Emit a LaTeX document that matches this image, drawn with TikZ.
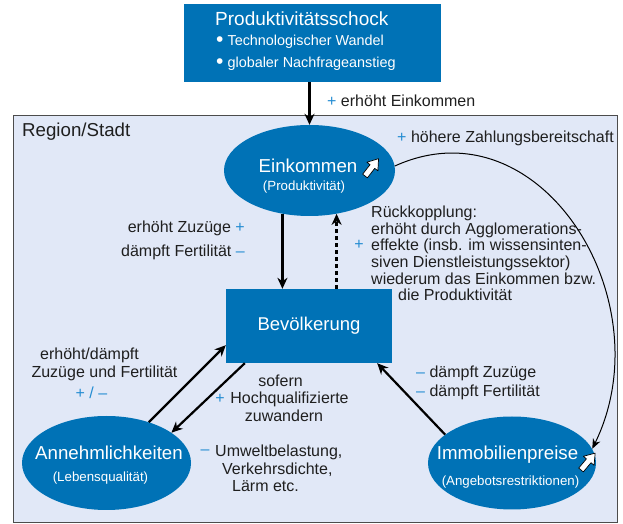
\documentclass[tikz,border=0pt]{standalone}
\usepackage{fontspec}
\setmainfont{Liberation Sans}
\usetikzlibrary{positioning, arrows.meta, shapes.geometric, calc}

\definecolor{boxblue}{RGB}{0,114,182}
\definecolor{regionbg}{RGB}{225,232,247}
\definecolor{signblue}{RGB}{35,140,210}

\newcommand{\fsz}[1]{\fontsize{#1}{#1}\selectfont}
\newcommand{\sgn}[1]{\textcolor{signblue}{#1}}
\newcommand{\bigbullet}{{\fsz{21}\raisebox{-1pt}{•}}\hspace{4pt}}

\begin{document}
\begin{tikzpicture}[x=1pt, y=1pt,
  arr/.style={-{Stealth[length=11pt,width=10pt,inset=3.5pt]}, line width=2.2pt},
  blob/.style={ellipse, fill=boxblue, inner sep=0pt},
  txt/.style={font=\fsz{16}, inner sep=0pt, text=black!88},
  wtxt/.style={font=\fsz{18.7}, inner sep=0pt, text=white},
  stxt/.style={font=\fsz{13.3}, inner sep=0pt, text=white},
  upicon/.pic={\draw[fill=white, line width=0.7pt, line join=round] (0,-3) -- (12,-3) -- (12,-7) -- (22,0) -- (12,7) -- (12,3) -- (0,3) -- cycle;}]
\useasboundingbox (0,0) rectangle (623,524);

% Region
\draw[fill=regionbg, draw=black!70, line width=1pt] (13,1) rectangle (617,408);
\node[txt, anchor=west, font=\fsz{18.7}] (region) at (22,392) {Region/Stadt};

% Shock
\node[fill=boxblue, minimum width=257pt, minimum height=78pt, inner sep=0pt] (shock) at (312.5,481) {};
\node[wtxt, font=\fsz{19}, anchor=west] (shocktitle) at (215,505) {Produktivitätsschock};
\node[wtxt, font=\fsz{14.4}, anchor=west] (shockA) at (216,482) {\bigbullet Technologischer Wandel};
\node[wtxt, font=\fsz{14.4}, anchor=west] (shockB) at (216,460) {\bigbullet globaler Nachfrageanstieg};

% Blobs
\node[blob, minimum width=171pt, minimum height=91pt] (eink) at (309.5,353.5) {};
\node[wtxt] (einktxt) at (308,358) {Einkommen};
\node[stxt] (einksub) at (304,337) {(Produktivität)};
\pic[rotate=52] at (365,348) {upicon};

\node[fill=boxblue, minimum width=166pt, minimum height=74pt, wtxt, font=\fsz{18.5}] (bev) at (309,198) {Bevölkerung};

\node[blob, minimum width=169pt, minimum height=94pt] (annehm) at (106.5,61) {};
\node[wtxt] (annehmtxt) at (109,71) {Annehmlichkeiten};
\node[stxt] (annehmsub) at (100.5,46) {(Lebensqualität)};

\node[blob, minimum width=168pt, minimum height=93pt] (immo) at (512,61) {};
\node[wtxt] (immotxt) at (507.5,69) {Immobilienpreise};
\node[stxt] (immosub) at (510.5,42) {(Angebotsrestriktionen)};
\pic[rotate=50] at (581,54) {upicon};

% Arrows
\draw[arr] (shock.south -| eink.north) -- (eink.north);
\draw[arr] (eink.238.5) -- (eink.238.5 |- bev.north);
\draw[arr, dash pattern=on 4pt off 3pt] (eink.302.5 |- bev.north) -- (eink.302.5);
\draw[arr] (annehm.44) -- ($(bev.south west)+(0,18)$);
\draw[arr] ($(bev.south west)+(19,0)$) -- (annehm.25);
\draw[arr] (immo.157) -- ($(bev.south east)+(-15,0)$);
\draw[-{Stealth[length=10pt,width=8pt]}, line width=1pt] (eink.3) .. controls (540,424) and (665,224) .. (immo.10);

% Labels
\node[txt, anchor=west] (lblshock) at (327,423) {\sgn{+} erhöht Einkommen};
\node[txt, anchor=east] (lblpay) at (614,386) {\sgn{+} höhere Zahlungsbereitschaft};
\node[txt, anchor=east] (lblin1) at (245,296) {erhöht Zuzüge \sgn{+}};
\node[txt, anchor=east] (lblin2) at (245,272) {dämpft Fertilität \sgn{–}};
\node[txt] (lblfbplus) at (359,279) {\sgn{+}};
\node[txt, anchor=west, align=left, font=\fontsize{16}{16.7}\selectfont] (lblfb) at (371,270.5)
  {Rückkopplung:\\erhöht durch Agglomerations-\\effekte (insb. im wissensinten-\\siven Dienstleistungssektor)\\wiederum das Einkommen bzw.\\\hspace*{27pt}die Produktivität};
\node[txt] (lblam1) at (89.5,169) {erhöht/dämpft};
\node[txt] (lblam2) at (104.5,151) {Zuzüge und Fertilität};
\node[txt] (lblam3) at (91.5,131) {\sgn{+ / –}};
\node[txt] (lblhq1) at (280.5,143) {sofern};
\node[txt] (lblhqplus) at (220,125) {\sgn{+}};
\node[txt] (lblhq2) at (289.5,125) {Hochqualifizierte};
\node[txt] (lblhq3) at (284,108) {zuwandern};
\node[txt] (lblenvminus) at (205,72) {\sgn{–}};
\node[txt, anchor=west] (lblenv1) at (215,72) {Umweltbelastung,};
\node[txt, anchor=west] (lblenv2) at (222,54) {Verkehrsdichte,};
\node[txt, anchor=west] (lblenv3) at (232,38) {Lärm etc.};
\node[txt, anchor=west] (lblim1) at (416,151) {\sgn{–} dämpft Zuzüge};
\node[txt, anchor=west] (lblim2) at (416,132) {\sgn{–} dämpft Fertilität};
\end{tikzpicture}
\end{document}
